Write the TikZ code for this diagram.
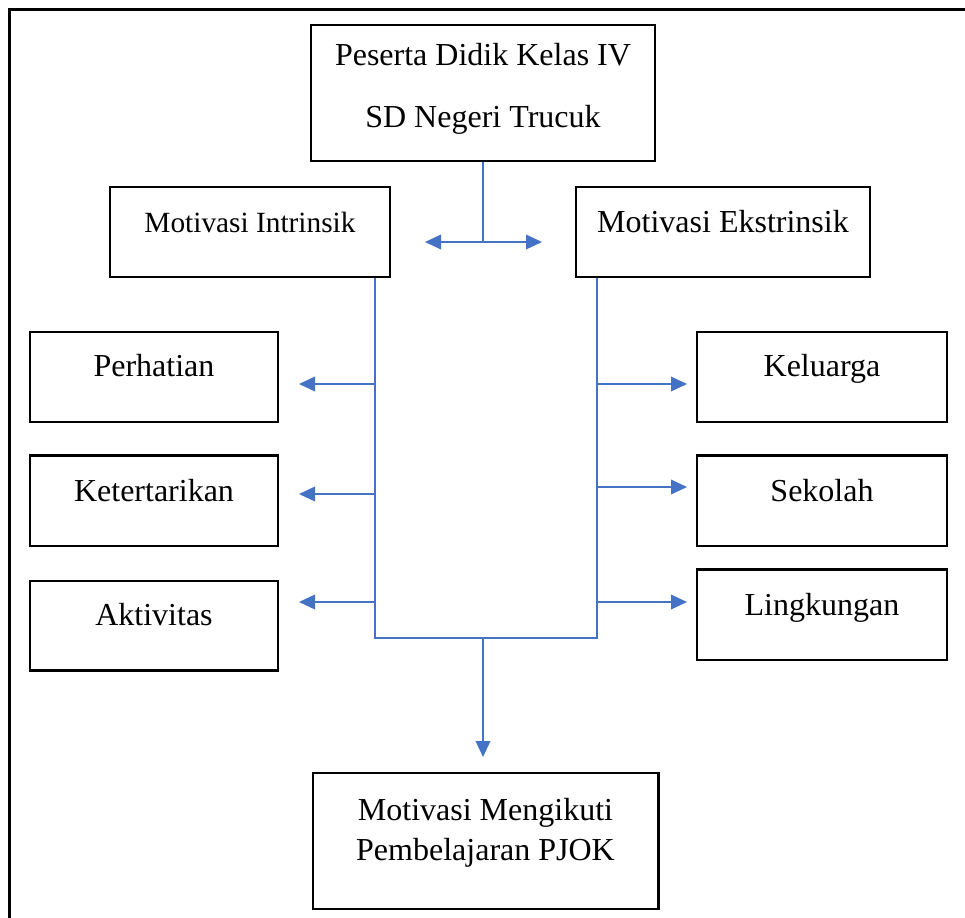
\documentclass[tikz,border=0pt]{standalone}
\usepackage{fontspec}
\setmainfont{Liberation Serif}
\usetikzlibrary{arrows.meta}
\definecolor{lnblue}{HTML}{4472C4}
\begin{document}
\begin{tikzpicture}[x=0.75pt,y=-0.75pt,
  bx/.style={draw, line width=2pt, inner sep=0pt, rectangle},
  tx/.style={anchor=base, inner sep=0pt, font=\fontsize{24}{29}\selectfont},
  ln/.style={color=lnblue, line width=1pt},
  arr/.style={ln, -{Triangle[length=12pt,width=11pt]}}]
\useasboundingbox (0,0) rectangle (965,918);
\clip (0,0) rectangle (965,918);
\draw[line width=2pt] (9.5,930) -- (9.5,9.5) -- (980,9.5);

% boxes
\node[bx, minimum width=258pt, minimum height=102pt] (top) at (483,93) {};
\node[bx, minimum width=210pt, minimum height=67.5pt] (mi) at (250,232) {};
\node[bx, minimum width=220.5pt, minimum height=67.5pt] (me) at (723,232) {};
\node[bx, minimum width=186pt, minimum height=67.5pt] (pe) at (154,377) {};
\node[bx, minimum width=186pt, minimum height=68pt] (ke) at (154,500.5) {};
\node[bx, minimum width=186pt, minimum height=67pt] (ak) at (154,625.5) {};
\node[bx, minimum width=187.5pt, minimum height=67.5pt] (kl) at (822,377) {};
\node[bx, minimum width=187.5pt, minimum height=68pt] (se) at (822,500.5) {};
\node[bx, minimum width=187.5pt, minimum height=68pt] (li) at (822,614.5) {};
\node[bx, minimum width=259pt, minimum height=102pt] (mm) at (485.5,841) {};

% texts
\node[tx, align=center, font=\fontsize{24}{46.5}\selectfont] (toptx) at (483,127) {Peserta Didik Kelas IV\\SD Negeri Trucuk};
\node[tx, font=\fontsize{22}{26}\selectfont] (mitx) at (250,232) {Motivasi Intrinsik};
\node[tx] (metx) at (723,232) {Motivasi Ekstrinsik};
\node[tx] (petx) at (154,376) {Perhatian};
\node[tx] (ketx) at (154,501) {Ketertarikan};
\node[tx] (aktx) at (154,625) {Aktivitas};
\node[tx] (kltx) at (822,376) {Keluarga};
\node[tx] (setx) at (822,501) {Sekolah};
\node[tx] (litx) at (822,615) {Lingkungan};
\node[tx, align=center, font=\fontsize{24}{29.5}\selectfont] (mmtx) at (485.5,860) {Motivasi Mengikuti\\Pembelajaran PJOK};

% junction coordinates
\coordinate (jT) at (483,242);
\coordinate (tL) at (425,242);
\coordinate (tR) at (542,242);
\coordinate (jL) at (375,638);
\coordinate (jR) at (597,638);
\coordinate (jB) at (483,638);
\coordinate (tB) at (483,757);
\coordinate (aL1) at (299,384);
\coordinate (aL2) at (299,494);
\coordinate (aL3) at (299,602);
\coordinate (aR1) at (687,384);
\coordinate (aR2) at (687,487);
\coordinate (aR3) at (687,602);

% connectors
\draw[ln] (top.south) -- (jT);
\draw[arr] (jT) -- (tL);
\draw[arr] (jT) -- (tR);
\draw[ln] (jL |- mi.south) -- (jL) -- (jR) -- (jR |- me.south);
\draw[arr] (jB) -- (tB);
\draw[arr] (jL |- aL1) -- (aL1);
\draw[arr] (jL |- aL2) -- (aL2);
\draw[arr] (jL |- aL3) -- (aL3);
\draw[arr] (jR |- aR1) -- (aR1);
\draw[arr] (jR |- aR2) -- (aR2);
\draw[arr] (jR |- aR3) -- (aR3);
\end{tikzpicture}
\end{document}
